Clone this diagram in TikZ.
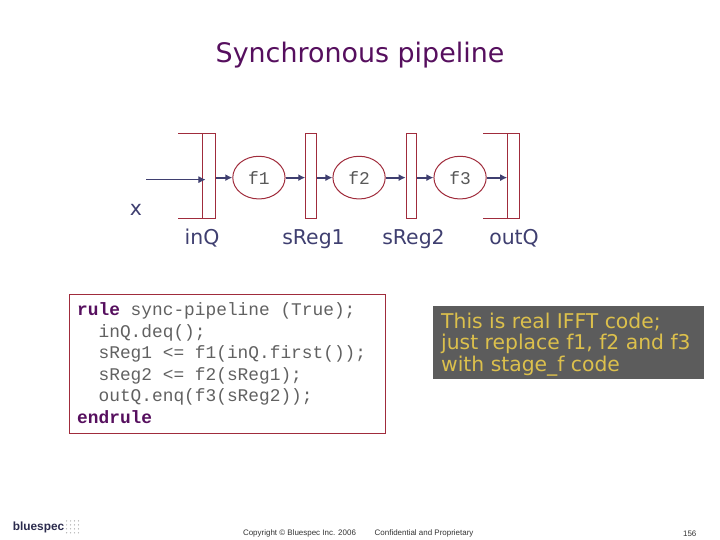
\documentclass[tikz,border=0pt]{standalone}
\usepackage{fontspec}
\setmainfont{DejaVu Sans}
\setmonofont{Liberation Mono}
\newfontfamily\footfont{Liberation Sans}
\usetikzlibrary{shapes.geometric, arrows.meta}
\definecolor{slidered}{HTML}{A02C3C}
\definecolor{slidenavy}{HTML}{3F3F70}
\definecolor{slidegrey}{HTML}{5C5C5C}
\definecolor{slidegold}{HTML}{DCC04C}
\definecolor{slideplum}{HTML}{560F5E}
\tikzset{
  regbox/.style={draw=slidered, line width=1pt, minimum height=1.1760in, inner sep=0pt},
  stagefn/.style={draw=slidered, line width=1pt, ellipse, minimum width=0.7260in, minimum height=0.5930in, inner sep=0pt, font=\ttfamily\fontsize{18}{18}\selectfont, text=black!65},
  flow/.style={slidenavy, line width=2pt, -{Latex[length=7pt,width=7pt]}},
  caption/.style={anchor=base, inner sep=0pt, text=slidenavy, font=\fontsize{20.5}{24}\selectfont},
  footer/.style={inner sep=0pt, text=black!80, font=\footfont\fontsize{8}{10}\selectfont}
}
\begin{document}
\begin{tikzpicture}[x=1in,y=1in]
\useasboundingbox (0,0) rectangle (10,7.5);
\node[anchor=base, inner sep=0pt, text=slideplum, font=\fontsize{27}{30}\selectfont] (title) at (5.0000,6.6290) {Synchronous pipeline};
% registers and stages
\node[regbox, minimum width=0.1750in] (inq) at (2.9030,5.0570) {};
\node[regbox, minimum width=0.1470in] (sregone) at (4.3200,5.0570) {};
\node[regbox, minimum width=0.1440in] (sregtwo) at (5.7130,5.0570) {};
\node[regbox, minimum width=0.1610in] (outq) at (7.1320,5.0570) {};
\node[stagefn] (fone) at (3.5960,5.0330) {f1};
\node[stagefn] (ftwo) at (4.9870,5.0330) {f2};
\node[stagefn] (fthree) at (6.3900,5.0330) {f3};
\draw[slidered, line width=1pt] (inq.north west) -- ++(-0.3300,0);
\draw[slidered, line width=1pt] (inq.south west) -- ++(-0.3300,0);
\draw[slidered, line width=1pt] (outq.north west) -- ++(-0.3300,0);
\draw[slidered, line width=1pt] (outq.south west) -- ++(-0.3300,0);
\coordinate (xin) at (2.0300,5.0050);
\draw[slidenavy, line width=0.8pt, -{Latex[length=7pt,width=7pt]}] (xin) -- ([xshift=0.0450in]inq.west |- xin);
\draw[flow] (inq.east |- fone) -- (fone);
\draw[flow] (fone) -- (sregone.west |- fone);
\draw[flow] (sregone.east |- ftwo) -- (ftwo);
\draw[flow] (ftwo) -- (sregtwo.west |- ftwo);
\draw[flow] (sregtwo.east |- fthree) -- (fthree);
\draw[flow] (fthree) -- (outq.west |- fthree);
\node[caption] (xlabel) at (1.8890,4.5040) {x};
\node[caption] (inqlabel) at (2.8060,4.1110) {inQ};
\node[caption] (sregonelabel) at (4.3540,4.1110) {sReg1};
\node[caption] (sregtwolabel) at (5.7430,4.1110) {sReg2};
\node[caption] (outqlabel) at (7.1390,4.1110) {outQ};
% code and note
\node[draw=slidered, line width=1pt, minimum width=4.3890in, minimum height=1.9300in, inner sep=0pt] (codebox) at (3.1530,2.4510) {};
\node[anchor=north west, inner sep=0pt, align=left, text=black!62, font=\ttfamily\fontsize{17.9}{21.6}\selectfont] (codetext) at (1.0700,3.3000)
 {\textcolor{slideplum}{\textbf{rule}} sync-pipeline (True);\\
 \ \ inQ.deq();\\
 \ \ sReg1 <= f1(inQ.first());\\
 \ \ sReg2 <= f2(sReg1);\\
 \ \ outQ.enq(f3(sReg2));\\
 \textcolor{slideplum}{\textbf{endrule}}};
\node[fill=slidegrey, minimum width=3.7600in, minimum height=1.0100in, inner sep=0pt] (notebox) at (7.8960,2.7440) {};
\node[anchor=west, inner sep=0pt, align=left, text=slidegold, font=\fontsize{20.4}{21.6}\selectfont] (notetext) at (6.1250,2.7160)
 {This is real IFFT code;\\just replace f1, f2 and f3\\with stage\_f code};
% footer
\node[inner sep=0pt, text=slidenavy!70!black, font=\footfont\bfseries\fontsize{11.9}{14}\selectfont] (logo) at (0.5350,0.1700) {bluespec};
\foreach \i in {0,1,2,3}
  \foreach \j in {0,1,2,3}
    \fill[black!30] (0.9250+0.0550*\i,0.1000+0.0550*\j) circle (0.0100);
\node[footer] (copyright) at (4.1600,0.0900) {Copyright © Bluespec Inc. 2006};
\node[footer] (confidential) at (5.8900,0.0900) {Confidential and Proprietary};
\node[footer] (pagenum) at (9.5800,0.0900) {156};
\end{tikzpicture}
\end{document}
